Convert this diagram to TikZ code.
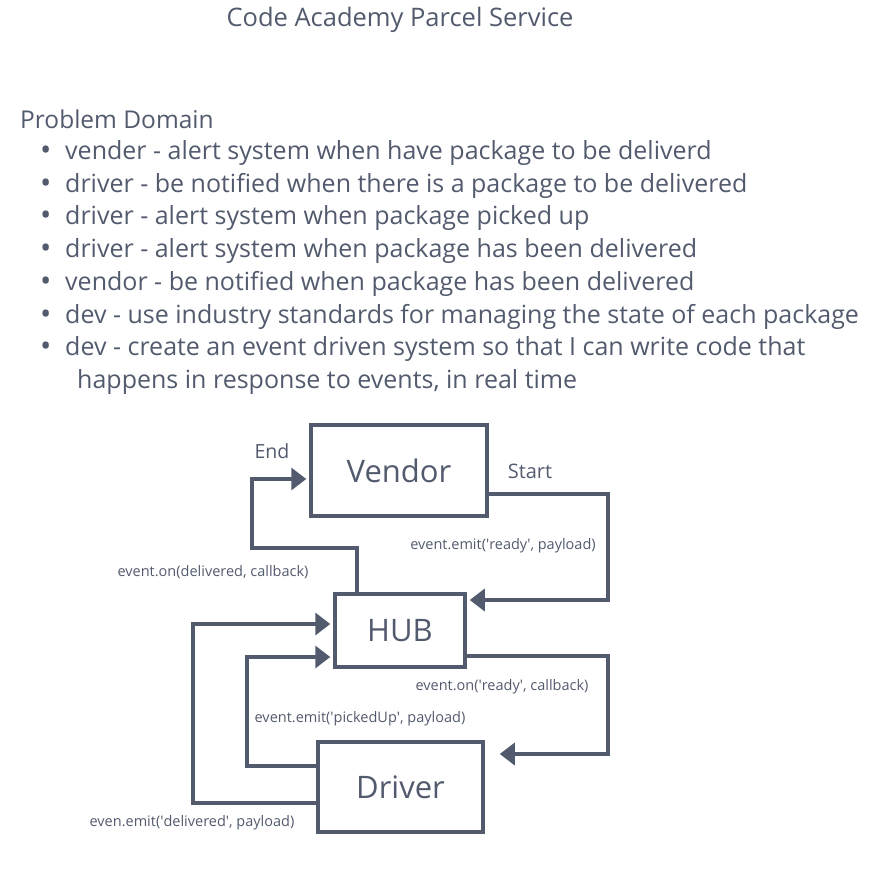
\documentclass[tikz,border=0pt]{standalone}
\usepackage{fontspec}
\setmainfont{Open Sans}
\usetikzlibrary{arrows.meta}
\definecolor{slate}{HTML}{525A6D}
\newcommand\pdbul{\makebox[25pt][l]{\raisebox{-1pt}{\fontsize{30}{30}\selectfont•}}}
\newcommand\q{\textquotesingle}
\tikzset{
  txt/.style={inner sep=0pt,anchor=west,text=slate,font=\fontsize{25}{29}\selectfont},
  lbl/.style={inner sep=0pt,text=slate,font=\fontsize{14.5}{17}\selectfont},
  actor/.style={draw=slate,line width=3.5pt,text=slate,font=\fontsize{31}{36}\selectfont},
  wire/.style={draw=slate,line width=3.5pt},
  flow/.style={wire,-{Triangle[length=15pt,width=22pt]},shorten >=3pt}
}
\begin{document}
\begin{tikzpicture}[x=1pt,y=-1pt]
\pgfmathsetmacro{\pdy}{32.7}
\useasboundingbox (0,0) rectangle (888,878);
\node[lbl,font=\fontsize{25.5}{29}\selectfont] (title) at (400,20) {Code Academy Parcel Service};
\node[txt,font=\fontsize{24.5}{29}\selectfont] (dom) at (20,119) {Problem Domain};
\node[txt] (p1) at (40,153) {\pdbul vender - alert system when have package to be deliverd};
\node[txt] (p2) at (40,{153+\pdy}) {\pdbul driver - be notified when there is a package to be delivered};
\node[txt] (p3) at (40,{153+2*\pdy}) {\pdbul driver - alert system when package picked up};
\node[txt] (p4) at (40,{153+3*\pdy}) {\pdbul driver - alert system when package has been delivered};
\node[txt] (p5) at (40,{153+4*\pdy}) {\pdbul vendor - be notified when package has been delivered};
\node[txt] (p6) at (40,{153+5*\pdy}) {\pdbul dev - use industry standards for managing the state of each package};
\node[txt] (p7) at (40,{153+6*\pdy}) {\pdbul dev - create an event driven system so that I can write code that};
\node[txt] (p8) at (77,{153+7*\pdy}) {happens in response to events, in real time};
\node[actor,minimum width=176pt,minimum height=91pt] (vendor) at (399,470.5) {Vendor};
\node[actor,minimum width=130pt,minimum height=73pt] (hub) at (400,630.5) {HUB};
\node[actor,minimum width=165pt,minimum height=90pt] (driver) at (400.5,787) {Driver};
\node[lbl,font=\fontsize{19.5}{22}\selectfont] (end) at (272,451) {End};
\node[lbl,font=\fontsize{20}{22}\selectfont] (start) at (530,471) {Start};
\node[lbl] (l1) at (503,546) {event.emit(\q ready\q, payload)};
\node[lbl] (l2) at (213,572) {event.on(delivered, callback)};
\node[lbl] (l3) at (502,687) {event.on(\q ready\q, callback)};
\node[lbl] (l4) at (360,719) {event.emit(\q pickedUp\q, payload)};
\node[lbl] (l5) at (192,823) {even.emit(\q delivered\q, payload)};
\draw[flow] (vendor.east |- 0,494) -- (608,494) -- (608,600) -- (hub.east |- 0,600);
\draw[flow] (hub.north -| 357,0) -- (357,548) -- (252,548) -- (252,479) -- (vendor.west |- 0,479);
\draw[flow,shorten >=15pt] (hub.east |- 0,656) -- (608,656) -- (608,754) -- (driver.east |- 0,754);
\draw[flow] (driver.west |- 0,766) -- (247,766) -- (247,657) -- (hub.west |- 0,657);
\draw[flow] (driver.west |- 0,803) -- (193,803) -- (193,624) -- (hub.west |- 0,624);
\end{tikzpicture}
\end{document}
